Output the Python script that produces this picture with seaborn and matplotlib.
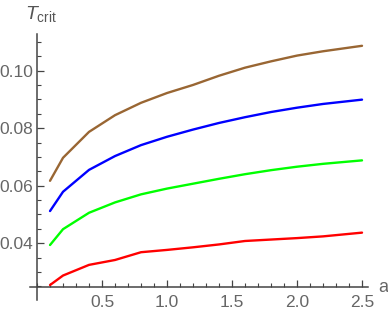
import numpy as np
import pandas as pd
import matplotlib
matplotlib.use("Agg")
import matplotlib.pyplot as plt
import seaborn as sns
from matplotlib.ticker import MultipleLocator, FormatStrFormatter

a_vals = [0.1, 0.2, 0.4, 0.6, 0.8, 1.0, 1.2, 1.4, 1.6, 1.8, 2.0, 2.2, 2.5]
brown_vals = [0.0617, 0.0697, 0.0787, 0.0845, 0.0888, 0.0922, 0.0950, 0.0982, 0.1010, 0.1032, 0.1052, 0.1067, 0.1086]
blue_vals = [0.0512, 0.0579, 0.0655, 0.0703, 0.0741, 0.0770, 0.0795, 0.0818, 0.0838, 0.0856, 0.0871, 0.0884, 0.0899]
green_vals = [0.0394, 0.0449, 0.0506, 0.0542, 0.0570, 0.0590, 0.0607, 0.0624, 0.0640, 0.0654, 0.0666, 0.0676, 0.0688]
red_vals = [0.0255, 0.0288, 0.0325, 0.0342, 0.0369, 0.0377, 0.0386, 0.0396, 0.0408, 0.0413, 0.0418, 0.0424, 0.0437]
series_names = ["brown", "blue", "green", "red"]
series_colors = ["#996633", "#0000FF", "#00FF00", "#FF0000"]

sns.set_style("white")
plt.rcParams["font.family"] = ["Liberation Sans", "DejaVu Sans"]
plt.rcParams["mathtext.fontset"] = "custom"
plt.rcParams["mathtext.it"] = "Liberation Sans:italic"
plt.rcParams["mathtext.rm"] = "Liberation Sans"

frames = []
for name, vals in zip(series_names, [brown_vals, blue_vals, green_vals, red_vals]):
    frames.append(pd.DataFrame({"a": a_vals, "T": vals, "series": name}))
df = pd.concat(frames, ignore_index=True)

fig = plt.figure(figsize=(3.88, 3.19), dpi=100)
ax = fig.add_axes([30 / 388, 1 - 300 / 319, (368 - 30) / 388, (300 - 34) / 319])

sns.lineplot(data=df, x="a", y="T", hue="series", hue_order=series_names,
             palette=dict(zip(series_names, series_colors)), linewidth=1.7,
             legend=False, ax=ax)

ax.set_xlim(-0.054, 2.546)
ax.set_ylim(0.0203, 0.1127)

axis_col = "#444444"
for s in ["top", "right"]:
    ax.spines[s].set_visible(False)
ax.spines["left"].set_position(("data", 0.0))
ax.spines["bottom"].set_position(("data", 0.0248))
for s in ["left", "bottom"]:
    ax.spines[s].set_color(axis_col)
    ax.spines[s].set_linewidth(1.1)

ax.xaxis.set_major_locator(MultipleLocator(0.5))
ax.xaxis.set_minor_locator(MultipleLocator(0.1))
ax.yaxis.set_major_locator(MultipleLocator(0.02))
ax.yaxis.set_minor_locator(MultipleLocator(0.005))
ax.xaxis.set_major_formatter(FormatStrFormatter("%.1f"))
ax.yaxis.set_major_formatter(FormatStrFormatter("%.2f"))
ax.set_xticks([0.5, 1.0, 1.5, 2.0, 2.5])
ax.set_yticks([0.04, 0.06, 0.08, 0.10])

ax.tick_params(axis="both", which="major", direction="in", length=5, width=0.9,
               color=axis_col, labelcolor="#666666", labelsize=12.5)
ax.tick_params(axis="both", which="minor", direction="in", length=3, width=0.8,
               color=axis_col)
ax.tick_params(axis="x", which="major", pad=6)
ax.tick_params(axis="y", which="major", pad=3)
ax.tick_params(axis="x", which="both", bottom=True, top=False)
ax.tick_params(axis="y", which="both", left=True, right=False)
# ticks point into the plot
ax.tick_params(axis="x", which="both", direction="in")
ax.tick_params(axis="y", which="both", direction="in")

ax.set_xlabel("")
ax.set_ylabel("")
ax.grid(False)

fig.text(378 / 388, 1 - 287 / 319, "a", color="#666666", fontsize=13,
         ha="left", va="center")
fig.text(25 / 388, 1 - 14 / 319, r"$T_{\mathrm{crit}}$", color="#555555",
         fontsize=14, ha="left", va="center")

fig.savefig("out.png", dpi=100)
